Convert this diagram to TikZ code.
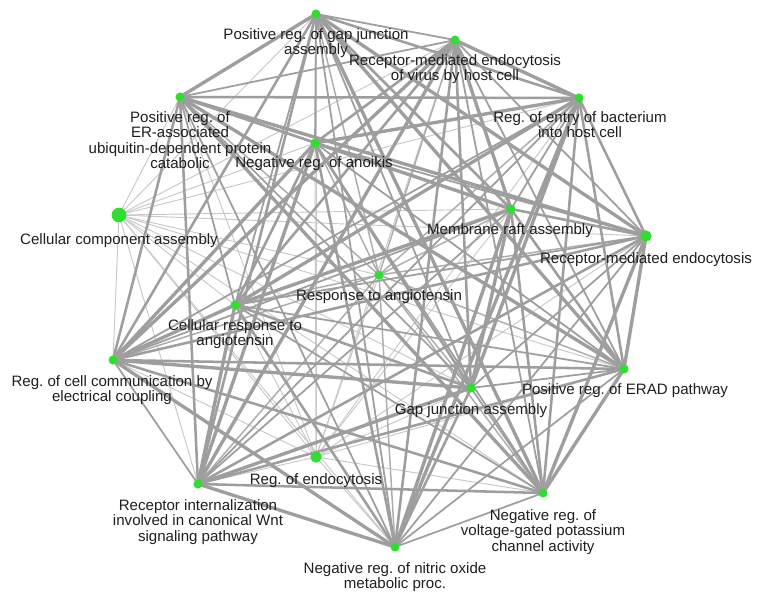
\documentclass[tikz,border=0pt]{standalone}
\usepackage{fontspec}
\setmainfont{Liberation Sans}
\frenchspacing
\definecolor{ndgreen}{RGB}{48,222,48}
\definecolor{edgegray}{RGB}{158,158,158}
\definecolor{lightedge}{RGB}{200,200,200}
\pgfdeclarelayer{back}
\pgfdeclarelayer{bg}
\pgfsetlayers{back,bg,main}
\begin{document}
\begin{tikzpicture}[x=0.75pt,y=-0.75pt,
  vtx/.style={circle,fill=ndgreen,inner sep=0pt,minimum size=6.8pt},
  bigvtx/.style={vtx,minimum size=11pt},
  midvtx/.style={vtx,minimum size=8.5pt},
  lbl/.style={align=center,font=\fontsize{11.3}{11.7}\selectfont,text=black!88,inner sep=0pt,anchor=north},
  mainedge/.style={draw=edgegray},
  midedge/.style={draw=edgegray!85,line width=1.1pt},
  faintedge/.style={draw=lightedge,line width=0.7pt}]
\useasboundingbox (0,0) rectangle (762,609);
\begin{pgfonlayer}{back}
\fill[white] (0,0) rectangle (762,609);
\end{pgfonlayer}
% vertices
\node[vtx] (A) at (316,14) {};
\node[vtx] (B) at (455,40) {};
\node[vtx] (C) at (579,98) {};
\node[vtx] (D) at (180,97) {};
\node[vtx] (E) at (315,143) {};
\node[bigvtx] (F) at (119,215) {};
\node[vtx] (G) at (511,209) {};
\node[midvtx] (H) at (646,236) {};
\node[vtx] (I) at (379,275) {};
\node[vtx] (J) at (235,305) {};
\node[vtx] (K) at (113,360) {};
\node[vtx] (L) at (624,369) {};
\node[vtx] (M) at (471,388) {};
\node[midvtx] (N) at (316,457) {};
\node[vtx] (O) at (198,484) {};
\node[vtx] (P) at (543,493) {};
\node[vtx] (Q) at (395,547) {};
% labels
\node[lbl] (Al) at (316,28) {Positive reg. of gap junction\\assembly};
\node[lbl] (Bl) at (455,54) {Receptor-mediated endocytosis\\of virus by host cell};
\node[lbl] (Cl) at (580,111) {Reg. of entry of bacterium\\into host cell};
\node[lbl] (Dl) at (180,111) {Positive reg. of\\ER-associated\\ubiquitin-dependent protein\\catabolic};
\node[lbl] (El) at (314,156) {Negative reg. of anoikis};
\node[lbl] (Fl) at (119,233) {Cellular component assembly};
\node[lbl] (Gl) at (510,223) {Membrane raft assembly};
\node[lbl] (Hl) at (646,252) {Receptor-mediated endocytosis};
\node[lbl] (Il) at (379,289) {Response to angiotensin};
\node[lbl] (Jl) at (235,319) {Cellular response to\\angiotensin};
\node[lbl] (Kl) at (112,375) {Reg. of cell communication by\\electrical coupling};
\node[lbl] (Ll) at (625,383) {Positive reg. of ERAD pathway};
\node[lbl] (Ml) at (471,403) {Gap junction assembly};
\node[lbl] (Nl) at (316,473) {Reg. of endocytosis};
\node[lbl] (Ol) at (198,499) {Receptor internalization\\involved in canonical Wnt\\signaling pathway};
\node[lbl] (Pl) at (543,509) {Negative reg. of\\voltage-gated potassium\\channel activity};
\node[lbl] (Ql) at (395,562) {Negative reg. of nitric oxide\\metabolic proc.};
% edges
\begin{pgfonlayer}{bg}
\foreach \u/\vs in {F/{A,B,C,D,E,G,H,I,J,K,L,M,N,O,P,Q},
                   N/{A,B,C,D,E,G,H,I,J,K,L,M,O,P,Q}}
  \foreach \v in \vs
    \draw[faintedge] (\u.center) -- (\v.center);
\foreach \v in {A,B,C,D,E,G,H,J,K,L,M,O,P,Q}
  \draw[midedge] (I.center) -- (\v.center);
\foreach \u/\vs [count=\i] in {A/{B,C,D,E,G,H,J,K,L,M,O,P,Q},
                   B/{C,D,E,G,H,J,K,L,M,O,P,Q},
                   C/{D,E,G,H,J,K,L,M,O,P,Q},
                   D/{E,G,H,J,K,L,M,O,P,Q},
                   E/{G,H,J,K,L,M,O,P,Q},
                   G/{H,J,K,L,M,O,P,Q},
                   H/{J,K,L,M,O,P,Q},
                   J/{K,L,M,O,P,Q},
                   K/{L,M,O,P,Q},
                   L/{M,O,P,Q},
                   M/{O,P,Q},
                   O/{P,Q},
                   P/{Q}}
  \foreach \v [count=\k] in \vs {
    \pgfmathtruncatemacro\w{mod(\k+2*\i,3)}
    \draw[mainedge,line width={1.3pt+0.6pt*\w}] (\u.center) -- (\v.center);
  }
\end{pgfonlayer}
\end{tikzpicture}
\end{document}
